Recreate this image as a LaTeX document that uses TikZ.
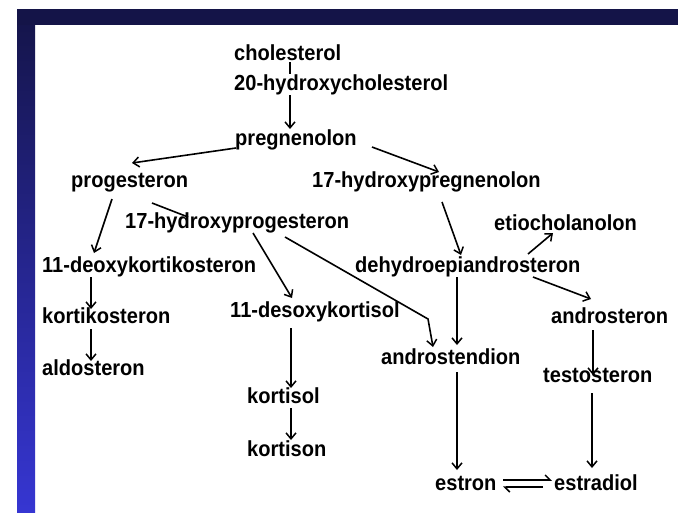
\documentclass[tikz,border=0pt]{standalone}
\usepackage{fontspec}
\setmainfont{Liberation Sans}[BoldFeatures={FakeStretch=0.92}]
\usetikzlibrary{arrows.meta}
\definecolor{navy}{HTML}{141448}
\definecolor{bandblue}{HTML}{3636D2}
\begin{document}
\begin{tikzpicture}[x=1pt,y=-1pt,
  lbl/.style={anchor=base west,inner sep=0pt,font=\fontsize{21.8}{26}\selectfont\bfseries},
  conn/.style={line width=1.6pt,-{Straight Barb[length=6pt,width=10pt,line width=1.5pt]}},
  plain/.style={line width=1.6pt},
  harp/.style={line width=1.6pt,-{Straight Barb[left,length=5pt,width=10pt,line width=1.5pt]}}]
\useasboundingbox (0,0) rectangle (678,512);
\fill[white] (0,0) rectangle (678,512);
% frame
\fill[navy] (17,9) rectangle (678,25);
\shade[top color=navy,bottom color=bandblue] (17,9) rectangle (35,512);
\fill[navy] (17,9) rectangle (35,25);
% nodes
\node[lbl] (chol) at (234,60) {cholesterol};
\node[lbl] (preg) at (235,145) {pregnenolon};
\draw[conn] ([shift={(56,2)}]chol.base west) -- ([shift={(55,-16)}]preg.base west);
\node[lbl,fill=white] (hchol) at (234,90) {20-hydroxycholesterol};
\node[lbl] (prog) at (71,187) {progesteron};
\node[lbl] (hpreg) at (312,187) {17-hydroxypregnenolon};
\node[lbl] (hprog) at (125,228) {17-hydroxyprogesteron};
\node[lbl] (etio) at (494,230) {etiocholanolon};
\node[lbl] (doc) at (42,272) {11-deoxykortikosteron};
\node[lbl] (dhea) at (355,272) {dehydroepiandrosteron};
\node[lbl] (kortiko) at (42,323) {kortikosteron};
\node[lbl] (dkort) at (230,317) {11-desoxykortisol};
\node[lbl] (andro) at (551,323) {androsteron};
\node[lbl] (adion) at (381,364) {androstendion};
\node[lbl] (aldo) at (42,375) {aldosteron};
\node[lbl] (testo) at (543,382) {testosteron};
\node[lbl] (kortisol) at (247,403) {kortisol};
\node[lbl] (kortison) at (247,456) {kortison};
\node[lbl] (estron) at (435,490) {estron};
\node[lbl] (estradiol) at (554,490) {estradiol};
% connectors
\draw[conn] ([shift={(1,3)}]preg.base west) -- ([shift={(61,-24)}]prog.base west);
\draw[conn] ([shift={(137,2)}]preg.base west) -- ([shift={(127,-15)}]hpreg.base west);
\draw[conn] ([shift={(41,12)}]prog.base west) -- ([shift={(52,-19)}]doc.base west);
\draw[plain] ([shift={(81,16)}]prog.base west) -- ([shift={(63,-11)}]hprog.base west);
\draw[conn] ([shift={(128,5)}]hprog.base west) -- ([shift={(62,-19)}]dkort.base west);
\draw[conn] ([shift={(160,9)}]hprog.base west) -- ([shift={(47,-45)}]adion.base west) -- ([shift={(52,-17)}]adion.base west);
\draw[conn] ([shift={(130,15)}]hpreg.base west) -- ([shift={(106,-17)}]dhea.base west);
\draw[conn] ([shift={(173,-18)}]dhea.base west) -- ([shift={(59,3)}]etio.base west);
\draw[conn] ([shift={(178,5)}]dhea.base west) -- ([shift={(40,-24)}]andro.base west);
\draw[conn] ([shift={(102,5)}]dhea.base west) -- ([shift={(76,-19)}]adion.base west);
\draw[conn] ([shift={(76,8)}]adion.base west) -- ([shift={(22,-20)}]estron.base west);
\draw[conn] ([shift={(49,5)}]doc.base west) -- ([shift={(49,-14)}]kortiko.base west);
\draw[conn] ([shift={(49,6)}]kortiko.base west) -- ([shift={(49,-14)}]aldo.base west);
\draw[conn] ([shift={(61,11)}]dkort.base west) -- ([shift={(44,-15)}]kortisol.base west);
\draw[conn] ([shift={(44,5)}]kortisol.base west) -- ([shift={(44,-16)}]kortison.base west);
\draw[conn] ([shift={(42,7)}]andro.base west) -- ([shift={(50,-7)}]testo.base west);
\draw[conn] ([shift={(49,11)}]testo.base west) -- ([shift={(38,-22)}]estradiol.base west);
\draw[harp] ([shift={(68,-10)}]estron.base west) -- ([shift={(-2,-10)}]estradiol.base west);
\draw[harp] ([shift={(-11,-3)}]estradiol.base west) -- ([shift={(68,-3)}]estron.base west);
\end{tikzpicture}
\end{document}
